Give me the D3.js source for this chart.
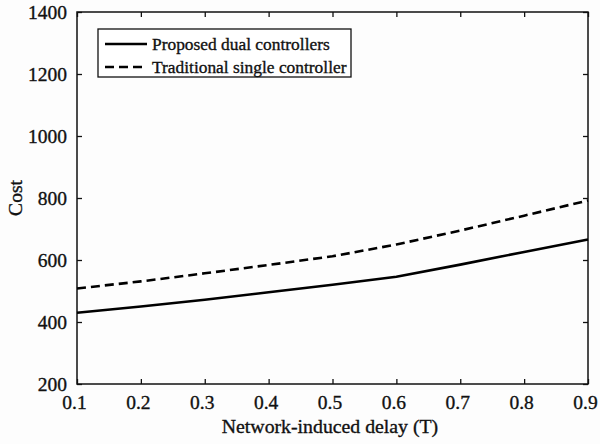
<!DOCTYPE html>
<html>
<head>
<meta charset="utf-8">
<script src="https://cdn.jsdelivr.net/npm/d3@7"></script>
<style>
  html, body { margin: 0; padding: 0; background: #fdfdfd; }
  svg { display: block; }
  text { font-family: "Liberation Serif", "Times New Roman", serif; fill: #111;
         stroke: #111; stroke-width: 0.35px; }
</style>
</head>
<body>
<svg id="chart" width="600" height="444"></svg>
<script>
// Network-induced delay (in sampling periods T)
const delays = [0.1, 0.2, 0.3, 0.4, 0.5, 0.6, 0.7, 0.8, 0.9];
// Cost for each controller scheme
const dualCost = [430, 450, 472, 496, 520, 546, 585, 626, 666];
const singleCost = [508, 531, 557, 584, 612, 650, 695, 743, 792];

const xTicks = [0.1, 0.2, 0.3, 0.4, 0.5, 0.6, 0.7, 0.8, 0.9];
const yTicks = [200, 400, 600, 800, 1000, 1200, 1400];

const seriesNames = ["Proposed dual controllers", "Traditional single controller"];

const svg = d3.select("#chart");
const m = { left: 77, right: 588, top: 12, bottom: 384 };

const x = d3.scaleLinear().domain([0.1, 0.9]).range([m.left, m.right]);
const y = d3.scaleLinear().domain([200, 1400]).range([m.bottom, m.top]);

const tickLen = 5;
const axisColor = "#111";

// Axes with inward ticks on all four sides
const gx = svg.append("g").attr("transform", `translate(0,${m.bottom})`)
  .call(d3.axisBottom(x).tickValues(xTicks).tickSize(-tickLen).tickPadding(11).tickFormat(d3.format(".1f")));
const gxTop = svg.append("g").attr("transform", `translate(0,${m.top})`)
  .call(d3.axisTop(x).tickValues(xTicks).tickSize(-tickLen).tickFormat(""));
const gy = svg.append("g").attr("transform", `translate(${m.left},0)`)
  .call(d3.axisLeft(y).tickValues(yTicks).tickSize(-tickLen).tickPadding(10).tickFormat(d3.format("d")));
const gyRight = svg.append("g").attr("transform", `translate(${m.right},0)`)
  .call(d3.axisRight(y).tickValues(yTicks).tickSize(-tickLen).tickFormat(""));

[gx, gxTop, gy, gyRight].forEach(g => {
  g.select(".domain").remove();
  g.selectAll(".tick line").attr("stroke", axisColor).attr("stroke-width", 1.3);
  g.selectAll(".tick text").style("font-family", '"Liberation Serif", serif')
    .style("font-size", "19.5px").attr("fill", "#111");
});
gx.selectAll(".tick text").attr("dx", -3);

// Plot frame
svg.append("rect")
  .attr("x", m.left).attr("y", m.top)
  .attr("width", m.right - m.left).attr("height", m.bottom - m.top)
  .attr("fill", "none").attr("stroke", axisColor).attr("stroke-width", 1.5);

// Data lines
const line = d3.line().x((d, i) => x(delays[i])).y(d => y(d));

svg.append("path").datum(dualCost)
  .attr("d", line).attr("fill", "none")
  .attr("stroke", "#000").attr("stroke-width", 2.6);

svg.append("path").datum(singleCost)
  .attr("d", line).attr("fill", "none")
  .attr("stroke", "#000").attr("stroke-width", 2.6)
  .attr("stroke-dasharray", "9,5");

// Axis labels
svg.append("text")
  .attr("x", 330).attr("y", 433)
  .attr("text-anchor", "middle").style("font-size", "19.8px")
  .text("Network-induced delay (T)");

svg.append("text")
  .attr("transform", `translate(22,198) rotate(-90)`)
  .attr("text-anchor", "middle").style("font-size", "19.5px")
  .text("Cost");

// Legend
const lg = svg.append("g");
lg.append("rect")
  .attr("x", 98).attr("y", 29).attr("width", 253).attr("height", 48)
  .attr("fill", "#fff").attr("stroke", axisColor).attr("stroke-width", 1.3);

const legendRows = [
  { name: seriesNames[0], dash: null, yy: 44 },
  { name: seriesNames[1], dash: "9,5", yy: 67 }
];
legendRows.forEach(r => {
  const l = lg.append("line")
    .attr("x1", 105).attr("x2", 147).attr("y1", r.yy).attr("y2", r.yy)
    .attr("stroke", "#000").attr("stroke-width", 2.6);
  if (r.dash) l.attr("stroke-dasharray", r.dash);
  lg.append("text")
    .attr("x", 152).attr("y", r.yy + 6)
    .style("font-size", "17.4px")
    .text(r.name);
});
</script>
</body>
</html>
